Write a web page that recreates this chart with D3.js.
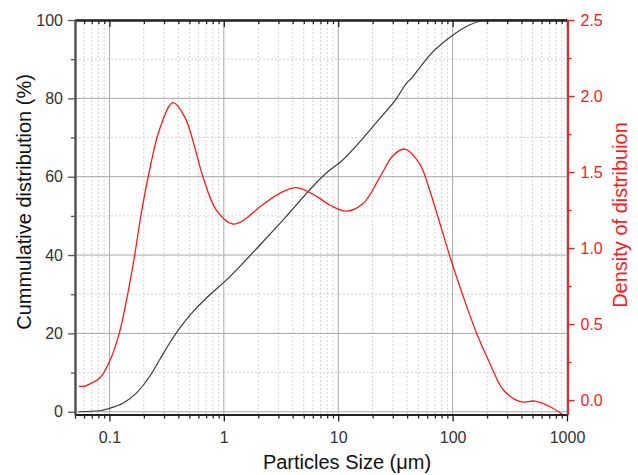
<!DOCTYPE html>
<html>
<head>
<meta charset="utf-8">
<script src="https://cdn.jsdelivr.net/npm/d3@7"></script>
<style>
  body { margin: 0; background: #fff; }
  svg { font-family: "Liberation Sans", Arial, sans-serif; }
</style>
</head>
<body>
<svg id="chart" width="638" height="475"></svg>
<script>
// cumulative distribution (%) vs particle size (um)
var cumSize = [0.054, 0.082, 0.1, 0.131, 0.171, 0.224, 0.274, 0.335, 0.41, 0.536, 0.751, 1.05, 1.37, 2.06, 3.08, 8.44, 10.6, 16, 23, 32.4, 39.6, 43.9, 48.5, 63.4, 101, 142, 199, 1000];
var cumValue = [0, 0.26, 0.87, 2.15, 4.7, 8.94, 13.2, 17.5, 21.3, 25.5, 29.8, 33.6, 37.0, 42.5, 48.0, 61.7, 63.9, 69.4, 74.8, 80.0, 83.9, 85.2, 86.8, 91.1, 96.2, 98.8, 100, 100];

// density of distribution vs particle size (um)
var denSize = [0.054, 0.06, 0.067, 0.082, 0.1, 0.122, 0.16, 0.19, 0.224, 0.274, 0.358, 0.454, 0.555, 0.656, 0.859, 1.2, 1.5, 2.06, 3.08, 4.32, 6.46, 8.44, 11.8, 16.5, 23.1, 30.3, 38.3, 51.8, 63, 77.6, 94.8, 124, 162, 212, 278, 389, 525, 713, 902];
var denValue = [0.092, 0.09, 0.105, 0.143, 0.252, 0.44, 0.88, 1.23, 1.51, 1.78, 1.956, 1.864, 1.667, 1.469, 1.25, 1.158, 1.185, 1.27, 1.36, 1.397, 1.34, 1.283, 1.243, 1.293, 1.465, 1.61, 1.651, 1.55, 1.38, 1.16, 0.943, 0.68, 0.44, 0.24, 0.066, -0.011, -0.007, -0.044, -0.092];

var xMajor = [0.1, 1, 10, 100, 1000];
var xMinor = [0.05, 0.06, 0.07, 0.08, 0.09, 0.2, 0.3, 0.4, 0.5, 0.6, 0.7, 0.8, 0.9, 2, 3, 4, 5, 6, 7, 8, 9, 20, 30, 40, 50, 60, 70, 80, 90, 200, 300, 400, 500, 600, 700, 800, 900];
var yLeftMajor = [0, 20, 40, 60, 80, 100];
var yLeftMinor = [10, 30, 50, 70, 90];
var yRightMajor = [0, 0.5, 1, 1.5, 2, 2.5];
var yRightMinor = [0.25, 0.75, 1.25, 1.75, 2.25];

var pLeft = 75, pRight = 567, pTop = 20, pBottom = 414.5;
var red = "#ff1a1a";

var svg = d3.select("#chart");

var x = d3.scaleLog().domain([0.05, 1000]).range([pLeft, pRight]);
var yL = d3.scaleLinear().domain([-0.7, 100]).range([pBottom, pTop]);
var yR = d3.scaleLinear().domain([-0.095, 2.5]).range([pBottom, pTop]);

// grid
var grid = svg.append("g");
grid.selectAll(".vmin").data(xMinor).enter().append("line")
    .attr("x1", d => x(d)).attr("x2", d => x(d))
    .attr("y1", pTop).attr("y2", pBottom)
    .attr("stroke", "#d4d4d4").attr("stroke-dasharray", "2,2");
grid.selectAll(".hmin").data(yLeftMinor).enter().append("line")
    .attr("x1", pLeft).attr("x2", pRight)
    .attr("y1", d => yL(d)).attr("y2", d => yL(d))
    .attr("stroke", "#d4d4d4").attr("stroke-dasharray", "2,2");
grid.selectAll(".vmaj").data(xMajor).enter().append("line")
    .attr("x1", d => x(d)).attr("x2", d => x(d))
    .attr("y1", pTop).attr("y2", pBottom)
    .attr("stroke", "#a8a8a8");
grid.selectAll(".hmaj").data(yLeftMajor).enter().append("line")
    .attr("x1", pLeft).attr("x2", pRight)
    .attr("y1", d => yL(d)).attr("y2", d => yL(d))
    .attr("stroke", "#a8a8a8");

// curves
var cumData = cumSize.map((s, i) => ({s: s, v: cumValue[i]}));
var denData = denSize.map((s, i) => ({s: s, v: denValue[i]}));

svg.append("path")
    .attr("d", d3.line().x(d => x(d.s)).y(d => yL(d.v)).curve(d3.curveMonotoneX)(cumData))
    .attr("fill", "none").attr("stroke", "#3a3a3a").attr("stroke-width", 1.2);

svg.append("path")
    .attr("d", d3.line().x(d => x(d.s)).y(d => yR(d.v)).curve(d3.curveCatmullRom.alpha(0.5))(denData))
    .attr("fill", "none").attr("stroke", red).attr("stroke-width", 1.3);

// axes
function styleAxis(g, color, width) {
    g.select(".domain").attr("stroke", color).attr("stroke-width", width);
    g.selectAll(".tick line").attr("stroke", color).attr("stroke-width", 1.3);
    g.selectAll("text").attr("fill", color).style("font-size", "16px")
        .style("font-family", "'Liberation Sans', Arial, sans-serif");
}

// bottom
var bMin = svg.append("g").attr("transform", "translate(0," + pBottom + ")")
    .call(d3.axisBottom(x).tickValues(xMinor).tickSize(4).tickSizeOuter(0).tickFormat(""));
styleAxis(bMin, "#222", 2);
var bMaj = svg.append("g").attr("transform", "translate(0," + pBottom + ")")
    .call(d3.axisBottom(x).tickValues(xMajor).tickSize(7).tickSizeOuter(0).tickPadding(10)
        .tickFormat(d => String(d)));
styleAxis(bMaj, "#222", 2);
bMaj.selectAll("text").attr("fill", "#333");

// top (ticks inward)
var tMin = svg.append("g").attr("transform", "translate(0," + pTop + ")")
    .call(d3.axisBottom(x).tickValues(xMinor).tickSize(4).tickSizeOuter(0).tickFormat(""));
styleAxis(tMin, "#222", 2);
var tMaj = svg.append("g").attr("transform", "translate(0," + pTop + ")")
    .call(d3.axisBottom(x).tickValues(xMajor).tickSize(7).tickSizeOuter(0).tickFormat(""));
styleAxis(tMaj, "#222", 2);

// left
var lMin = svg.append("g").attr("transform", "translate(" + pLeft + ",0)")
    .call(d3.axisLeft(yL).tickValues(yLeftMinor).tickSize(4).tickSizeOuter(0).tickFormat(""));
styleAxis(lMin, "#555", 2);
var lMaj = svg.append("g").attr("transform", "translate(" + pLeft + ",0)")
    .call(d3.axisLeft(yL).tickValues(yLeftMajor).tickSize(7).tickSizeOuter(0).tickPadding(5)
        .tickFormat(d3.format("d")));
styleAxis(lMaj, "#555", 2);
lMaj.selectAll("text").attr("fill", "#333");

// right
var rMin = svg.append("g").attr("transform", "translate(" + (pRight + 0.5) + ",0)")
    .call(d3.axisRight(yR).tickValues(yRightMinor).tickSize(4).tickSizeOuter(0).tickFormat(""));
styleAxis(rMin, red, 1.6);
var rMaj = svg.append("g").attr("transform", "translate(" + (pRight + 0.5) + ",0)")
    .call(d3.axisRight(yR).tickValues(yRightMajor).tickSize(7).tickSizeOuter(0).tickPadding(6)
        .tickFormat(d3.format(".1f")));
styleAxis(rMaj, red, 1.6);

// titles
svg.append("text")
    .attr("x", 347).attr("y", 469)
    .attr("text-anchor", "middle")
    .style("font-size", "20px").attr("fill", "#111")
    .text("Particles Size (\u03bcm)");

svg.append("text")
    .attr("transform", "translate(31,202) rotate(-90)")
    .attr("text-anchor", "middle")
    .style("font-size", "20px").attr("fill", "#111")
    .text("Cummulative distribution (%)");

svg.append("text")
    .attr("transform", "translate(627,215) rotate(-90)")
    .attr("text-anchor", "middle")
    .style("font-size", "20px").attr("fill", red)
    .text("Density of distribuion");
</script>
</body>
</html>
